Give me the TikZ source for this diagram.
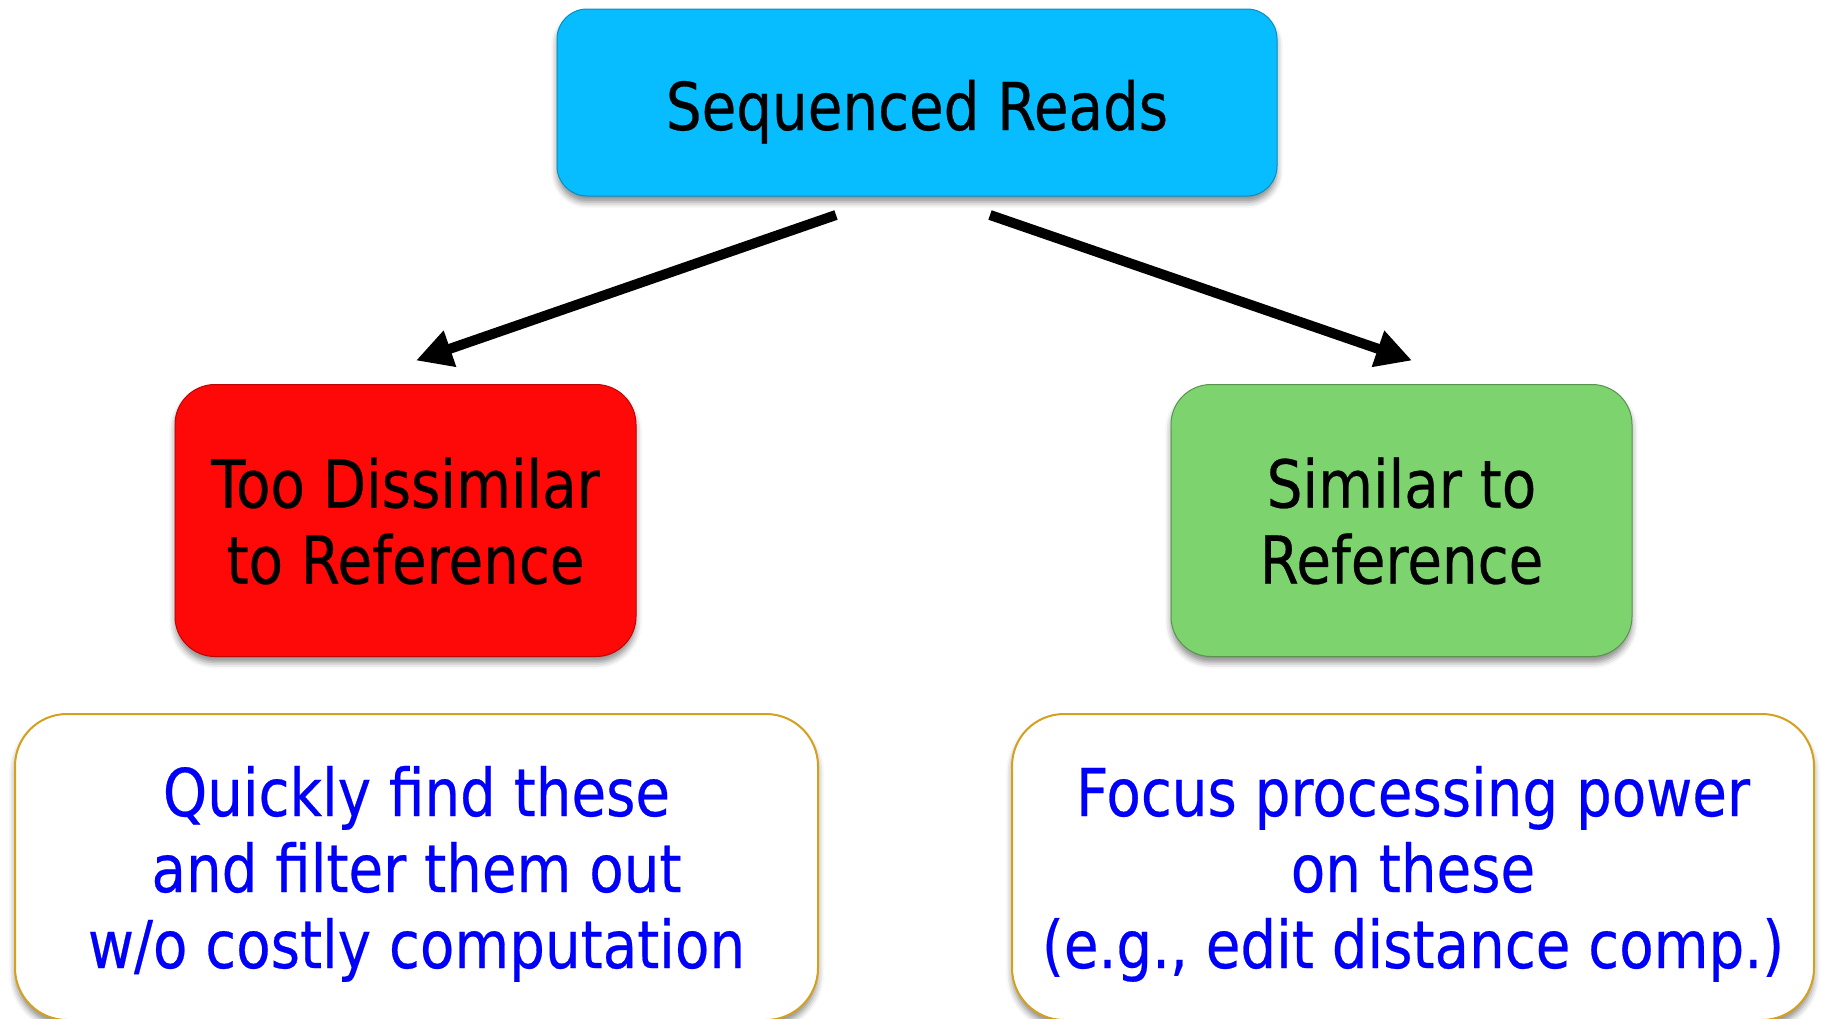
\documentclass[tikz,border=0pt]{standalone}
\usepackage{fontspec}
\setmainfont{DejaVu Sans}[FakeStretch=0.853,FakeBold=0.4]
\usetikzlibrary{arrows.meta,calc,shadows.blur}
\definecolor{cyanbox}{RGB}{8,189,255}
\definecolor{redbox}{RGB}{254,8,8}
\definecolor{greenbox}{RGB}{125,212,110}
\definecolor{goldline}{RGB}{212,160,30}
\definecolor{bluetext}{RGB}{0,0,250}
\begin{document}
\begin{tikzpicture}[x=1pt,y=-1pt,
  box/.style={rectangle, rounded corners=#1, inner sep=0pt, outer sep=0pt,
    blur shadow={shadow xshift=0pt, shadow yshift=-6pt, shadow blur radius=6pt, shadow opacity=45}},
  lbl/.style={font=\fontsize{66}{76}\selectfont, align=center, text depth=0pt},
  arr/.style={line width=10pt, -{Triangle[length=36pt,width=36pt]}}
]
\useasboundingbox (0,0) rectangle (1821,1018);
\clip (0,0) rectangle (1821,1018);

\node[box=30pt, fill=cyanbox, draw=cyanbox!75!black, line width=1pt,
      minimum width=720pt, minimum height=187pt, lbl, text height=55pt]
  (top) at (917,102.5) {Sequenced Reads};

\node[box=40pt, fill=redbox, draw=redbox!75!black, line width=1pt,
      minimum width=461pt, minimum height=272pt, lbl]
  (red) at (405.5,520.5) {Too Dissimilar\\to Reference};

\node[box=40pt, fill=greenbox, draw=greenbox!70!black, line width=1pt,
      minimum width=461pt, minimum height=272pt, lbl]
  (green) at (1401.5,520.5) {Similar to\\Reference};

\node[box=52pt, fill=white, draw=goldline, line width=2pt,
      minimum width=803pt, minimum height=306pt, lbl, text=bluetext]
  (bl) at (416.5,867) {Quickly find these\\and filter them out\\w/o costly computation};

\node[box=52pt, fill=white, draw=goldline, line width=2pt,
      minimum width=802pt, minimum height=306pt, lbl, text=bluetext]
  (br) at (1413,867) {Focus processing power\\on these\\(e.g., edit distance comp.)};

\draw[arr] ($(top.south)+(-81,19)$) -- ($(red.north)+(10.5,-24)$);
\draw[arr] ($(top.south)+(73,19)$) -- ($(green.north)+(10.5,-24)$);
\end{tikzpicture}
\end{document}
